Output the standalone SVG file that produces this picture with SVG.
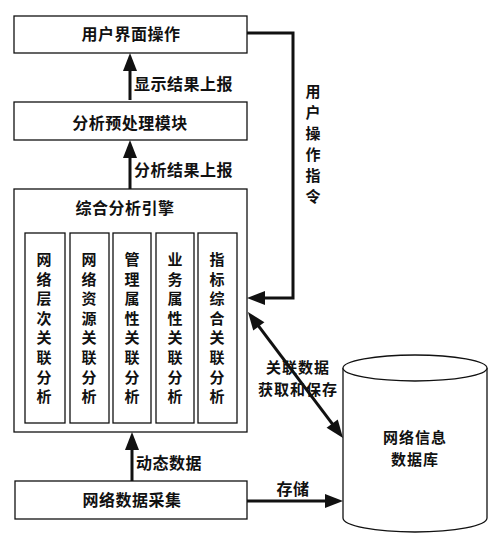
<svg xmlns="http://www.w3.org/2000/svg" width="500" height="545" viewBox="0 0 500 545">
<style>
.box{fill:#fff;stroke:#111;stroke-width:1.3}
.t{font-family:"Noto Sans CJK SC","Noto Sans",sans-serif;font-size:15px;font-weight:bold;fill:#111}
.h{font-size:16px;letter-spacing:0.5px}
.m{letter-spacing:1px}
.c{text-anchor:middle}
.ln{fill:none;stroke:#111;stroke-width:3}
</style>
<defs>
<marker id="ah" markerUnits="userSpaceOnUse" markerWidth="18" markerHeight="14" refX="10" refY="7" orient="auto-start-reverse" overflow="visible">
<path d="M0,0 L18,7 L0,14 z" fill="#111"/>
</marker>
</defs>
<rect width="500" height="545" fill="#fff"/>

<g id="connectors">
<line class="ln" x1="130" y1="100" x2="130" y2="61" marker-end="url(#ah)"/>
<line class="ln" x1="130" y1="189" x2="130" y2="148" marker-end="url(#ah)"/>
<line class="ln" x1="132" y1="481" x2="132" y2="440" marker-end="url(#ah)"/>
<line class="ln" x1="247" y1="501" x2="335" y2="501" marker-end="url(#ah)"/>
<polyline class="ln" points="247,33 293,33 293,298 255,298" marker-end="url(#ah)"/>
<line class="ln" x1="252.8" y1="318.4" x2="338.2" y2="431.6" marker-start="url(#ah)" marker-end="url(#ah)"/>
<text class="t h" x="134" y="90">显示结果上报</text>
<text class="t h" x="134" y="176">分析结果上报</text>
<text class="t h" x="136" y="469">动态数据</text>
<text class="t h c" x="293" y="495">存储</text>
<text class="t c" x="313"><tspan x="313" y="97">用</tspan><tspan x="313" dy="21">户</tspan><tspan x="313" dy="21">操</tspan><tspan x="313" dy="21">作</tspan><tspan x="313" dy="21">指</tspan><tspan x="313" dy="21">令</tspan></text>
<text class="t m c" x="298" y="373">关联数据</text>
<text class="t m c" x="298" y="395">获取和保存</text>
</g>

<g id="ui">
<rect class="box" x="14" y="16" width="233" height="37"/>
<text class="t h c" x="131" y="40">用户界面操作</text>
</g>

<g id="preprocess">
<rect class="box" x="14" y="102" width="233" height="38"/>
<text class="t h c" x="130" y="129">分析预处理模块</text>
</g>

<g id="engine">
<rect class="box" x="14" y="189" width="233" height="243"/>
<text class="t h c" x="125" y="214">综合分析引擎</text>
</g>

<g id="col1">
<rect class="box" x="25" y="233" width="40" height="190"/>
<text class="t c"><tspan x="44" y="265">网</tspan><tspan x="44" dy="19.6">络</tspan><tspan x="44" dy="19.6">层</tspan><tspan x="44" dy="19.6">次</tspan><tspan x="44" dy="19.6">关</tspan><tspan x="44" dy="19.6">联</tspan><tspan x="44" dy="19.6">分</tspan><tspan x="44" dy="19.6">析</tspan></text>
</g>
<g id="col2">
<rect class="box" x="70" y="233" width="39" height="190"/>
<text class="t c"><tspan x="89" y="265">网</tspan><tspan x="89" dy="19.6">络</tspan><tspan x="89" dy="19.6">资</tspan><tspan x="89" dy="19.6">源</tspan><tspan x="89" dy="19.6">关</tspan><tspan x="89" dy="19.6">联</tspan><tspan x="89" dy="19.6">分</tspan><tspan x="89" dy="19.6">析</tspan></text>
</g>
<g id="col3">
<rect class="box" x="113" y="233" width="38" height="190"/>
<text class="t c"><tspan x="132" y="265">管</tspan><tspan x="132" dy="19.6">理</tspan><tspan x="132" dy="19.6">属</tspan><tspan x="132" dy="19.6">性</tspan><tspan x="132" dy="19.6">关</tspan><tspan x="132" dy="19.6">联</tspan><tspan x="132" dy="19.6">分</tspan><tspan x="132" dy="19.6">析</tspan></text>
</g>
<g id="col4">
<rect class="box" x="156" y="233" width="38" height="190"/>
<text class="t c"><tspan x="175" y="265">业</tspan><tspan x="175" dy="19.6">务</tspan><tspan x="175" dy="19.6">属</tspan><tspan x="175" dy="19.6">性</tspan><tspan x="175" dy="19.6">关</tspan><tspan x="175" dy="19.6">联</tspan><tspan x="175" dy="19.6">分</tspan><tspan x="175" dy="19.6">析</tspan></text>
</g>
<g id="col5">
<rect class="box" x="198" y="233" width="39" height="190"/>
<text class="t c"><tspan x="217" y="265">指</tspan><tspan x="217" dy="19.6">标</tspan><tspan x="217" dy="19.6">综</tspan><tspan x="217" dy="19.6">合</tspan><tspan x="217" dy="19.6">关</tspan><tspan x="217" dy="19.6">联</tspan><tspan x="217" dy="19.6">分</tspan><tspan x="217" dy="19.6">析</tspan></text>
</g>

<g id="collect">
<rect class="box" x="15" y="481" width="232" height="38"/>
<text class="t h c" x="132" y="506">网络数据采集</text>
</g>

<g id="database">
<path class="box" d="M343,368 L343,518 A72,14 0 0 0 487,518 L487,368 A72,13 0 0 0 343,368 Z"/>
<path class="box" d="M343,368 A72,13 0 0 0 487,368" fill="none"/>
<text class="t m c" x="415" y="443">网络信息</text>
<text class="t m c" x="415" y="465">数据库</text>
</g>
</svg>
